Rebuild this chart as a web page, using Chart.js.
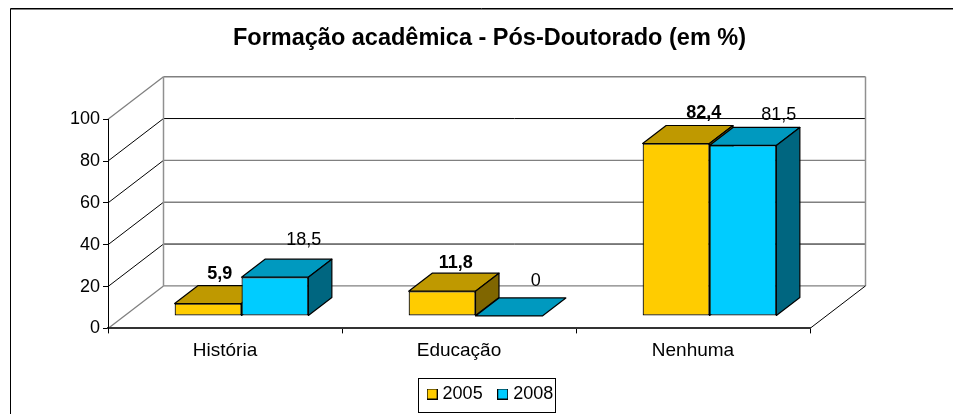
<!DOCTYPE html>
<html><head><meta charset="utf-8">
<style>html,body{margin:0;padding:0;background:#fff;overflow:hidden}canvas{display:block}</style>
<script src="https://cdn.jsdelivr.net/npm/chart.js@4"></script></head>
<body><div style="position:relative;width:953px;height:414px"><canvas id="c" width="953" height="414"></canvas></div>
<script>
const categories = ["História", "Educação", "Nenhuma"];
const seriesNames = ["2005", "2008"];
const values2005 = [5.9, 11.8, 82.4];
const values2008 = [18.5, 0, 81.5];
const labels2005 = ["5,9", "11,8", "82,4"];
const labels2008 = ["18,5", "0", "81,5"];
const yTicks = [0, 20, 40, 60, 80, 100];

const WALL = {dx:55.5, dy:-42.5};      // floor depth
const FRONT = {dx:16.5, dy:-12.5};     // bar front plane
const DEPTH = {dx:23.5, dy:-18};       // bar depth
const FACES = [
  {front:'#FFCC00', top:'#BF9900', side:'#806600'},
  {front:'#00CCFF', top:'#0099BF', side:'#006680'}
];
const labelNudge = [
  [[0,-7],[2,-5],[16,-8]],
  [[17,-14],[15,-12],[24,-7]]
];
const LEGEND_FRAME = {left:418, right:556, top:378, bottom:413};
const FONT = 'Liberation Sans, Arial, sans-serif';

function swatch(color){
  const s = document.createElement('canvas'); s.width = 11; s.height = 11;
  const g = s.getContext('2d');
  g.fillStyle = color; g.fillRect(0,0,11,11);
  g.strokeStyle = '#000'; g.lineWidth = 1; g.strokeRect(.5,.5,10,10);
  return s;
}

const scene = {
  id:'scene',
  afterLayout(chart){
    const t = chart.titleBlock; t.left = 233; t.right = 746; t.top = 24; t.bottom = 52;
    const l = chart.legend; l.left = 412; l.right = 953; l.top = 366.4; l.bottom = 414;
  },
  beforeDraw(chart){
    const c = chart.ctx, y = chart.scales.y, a = chart.chartArea;
    c.save();
    // outer frame
    c.strokeStyle = '#808080'; c.lineWidth = 1;
    c.beginPath(); c.moveTo(11,9.5); c.lineTo(953,9.5); c.stroke();
    c.strokeStyle = '#000';
    c.beginPath(); c.moveTo(10.5,414); c.lineTo(10.5,8.5); c.lineTo(953,8.5); c.stroke();
    // walls and grid
    const bl = a.left + WALL.dx, br = a.right + WALL.dx;
    yTicks.forEach(v=>{
      const py = y.getPixelForValue(v), soft = !(v===80||v===20);
      c.strokeStyle = soft ? '#808080' : '#000'; c.lineWidth = soft ? 1.4 : 1;
      c.beginPath(); c.moveTo(bl, py+WALL.dy); c.lineTo(br, py+WALL.dy); c.stroke();
      const edge = v===0||v===100;
      c.strokeStyle = edge ? '#808080' : '#000'; c.lineWidth = edge ? 1.3 : 1;
      c.beginPath(); c.moveTo(a.left, py); c.lineTo(bl, py+WALL.dy); c.stroke();
    });
    c.strokeStyle = '#909090'; c.lineWidth = 1.5;
    const p0 = y.getPixelForValue(0), p100 = y.getPixelForValue(100);
    c.beginPath(); c.moveTo(bl,p0+WALL.dy); c.lineTo(bl,p100+WALL.dy); c.stroke();
    c.beginPath(); c.moveTo(br,p0+WALL.dy); c.lineTo(br,p100+WALL.dy); c.stroke();
    c.strokeStyle = '#000'; c.lineWidth = 1;
    c.beginPath(); c.moveTo(a.right,p0); c.lineTo(br,p0+WALL.dy); c.stroke();
    c.restore();
  },
  beforeDatasetsDraw(chart){
    const c = chart.ctx;
    c.save();
    c.translate(FRONT.dx, FRONT.dy);
    c.strokeStyle = '#000'; c.lineWidth = 1.2; c.lineJoin = 'round';
    FACES.forEach((f,i)=>{
      chart.getDatasetMeta(i).data.forEach(b=>{
        const l = b.x - b.width/2, r = b.x + b.width/2, t = b.y, bt = b.base;
        c.fillStyle = f.top;
        c.beginPath(); c.moveTo(l,t); c.lineTo(l+DEPTH.dx,t+DEPTH.dy); c.lineTo(r+DEPTH.dx,t+DEPTH.dy); c.lineTo(r,t); c.closePath(); c.fill(); c.stroke();
        if (bt - t > 0.5) {
          c.fillStyle = f.side;
          c.beginPath(); c.moveTo(r,t); c.lineTo(r+DEPTH.dx,t+DEPTH.dy); c.lineTo(r+DEPTH.dx,bt+DEPTH.dy); c.lineTo(r,bt); c.closePath(); c.fill(); c.stroke();
        }
      });
    });
    c.restore();
  },
  beforeDatasetDraw(chart){
    chart.ctx.save();
    chart.ctx.translate(FRONT.dx, FRONT.dy);
  },
  afterDatasetDraw(chart){ chart.ctx.restore(); },
  afterDatasetsDraw(chart){
    const c = chart.ctx;
    c.save();
    c.fillStyle = '#000'; c.textAlign = 'center'; c.textBaseline = 'alphabetic';
    [labels2005, labels2008].forEach((texts, i)=>{
      c.font = (i===0?'bold ':'') + '18px ' + FONT;
      chart.getDatasetMeta(i).data.forEach((b,j)=>{
        const cx = b.x + FRONT.dx + DEPTH.dx/2, top = b.y + FRONT.dy + DEPTH.dy;
        c.fillText(texts[j], cx + labelNudge[i][j][0], top + labelNudge[i][j][1]);
      });
    });
    c.restore();
  },
  afterDraw(chart){
    const c = chart.ctx, l = LEGEND_FRAME;
    c.save(); c.strokeStyle='#000'; c.lineWidth=1;
    c.strokeRect(l.left+.5,l.top+.5,l.right-l.left-1,l.bottom-l.top-1);
    c.restore();
  }
};

new Chart(document.getElementById('c'), {
  type:'bar',
  data:{labels:categories, datasets:[
    {label:seriesNames[0], data:values2005, backgroundColor:FACES[0].front, borderColor:'#000', borderWidth:1.2, borderSkipped:false},
    {label:seriesNames[1], data:values2008, backgroundColor:FACES[1].front, borderColor:'#000', borderWidth:1.2, borderSkipped:false}
  ]},
  plugins:[scene],
  options:{
    responsive:false, animation:false,
    layout:{padding:{left:0,right:143,top:91,bottom:0}},
    datasets:{bar:{categoryPercentage:2/3.5, barPercentage:1}},
    plugins:{
      tooltip:{enabled:false},
      title:{display:true, text:'Formação acadêmica - Pós-Doutorado (em %)', color:'#000', padding:0,
        font:{family:FONT, size:23.5, weight:'bold'}},
      legend:{position:'bottom', align:'start',
        labels:{color:'#000', font:{family:FONT,size:18}, usePointStyle:true, pointStyleWidth:3, padding:18.6,
          generateLabels(){ return seriesNames.map((n,i)=>({text:n, pointStyle:swatch(FACES[i].front), datasetIndex:i, fontColor:'#000'})); }}}
    },
    scales:{
      x:{ grid:{drawOnChartArea:false, tickLength:5, color:'#000'}, border:{color:'#333',width:2},
          ticks:{color:'#000', font:{family:FONT,size:19}, padding:6, maxRotation:0},
          afterFit(s){ s.height = 39; } },
      y:{ min:0, max:100, afterBuildTicks(s){ s.ticks = yTicks.map(v=>({value:v})); },
          grid:{drawOnChartArea:false, tickLength:5, color:'#000'}, border:{color:'#000',width:1},
          ticks:{color:'#000', font:{family:FONT,size:18}, padding:3},
          afterFit(s){ s.width = 108; } }
    }
  }
});
</script></body></html>
